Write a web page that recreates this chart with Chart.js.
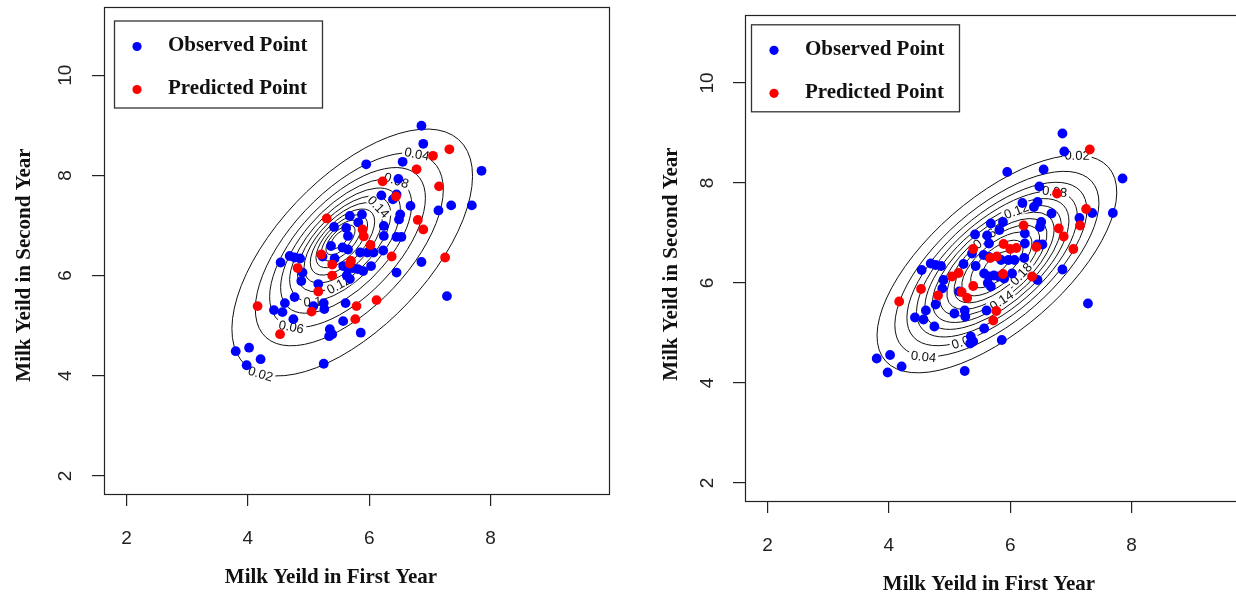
<!DOCTYPE html>
<html><head><meta charset="utf-8">
<script src="https://cdn.jsdelivr.net/npm/chart.js@4.4.1/dist/chart.umd.min.js"></script>
<style>
html,body{margin:0;padding:0;background:#fff;overflow:hidden;width:1236px;height:594px;position:relative;}
#w1{position:absolute;left:0;top:0;width:618px;height:594px;}
#w2{position:absolute;left:618px;top:0;width:640px;height:594px;}
</style></head><body>
<div id="w1"><canvas id="c1" width="618" height="594"></canvas></div>
<div id="w2"><canvas id="c2" width="640" height="594"></canvas></div>
<script>
// ---------- data ----------
const obsX = [6.86,6.89,5.95,6.55,6.48,7.85,6.20,6.45,6.39,6.68,7.14,7.35,7.69,5.68,5.88,5.82,5.42,5.62,5.65,6.51,6.49,6.24,6.24,6.45,6.53,5.37,5.56,5.65,5.85,5.97,6.07,6.23,5.43,5.57,5.65,5.73,5.81,5.90,6.03,5.68,5.63,6.45,6.86,7.28,4.54,4.69,4.77,4.86,4.90,4.88,5.16,4.77,4.61,4.43,4.57,4.75,5.08,5.25,5.26,5.61,5.57,5.35,5.39,5.34,5.86,3.80,4.02,3.98,4.21,5.25,5.23];
const obsY = [8.99,8.63,8.22,8.27,7.93,8.09,7.60,7.62,7.52,7.39,7.30,7.40,7.40,7.19,7.22,7.06,6.97,6.95,6.79,7.22,7.12,6.99,6.79,6.77,6.77,6.59,6.56,6.52,6.46,6.46,6.46,6.50,6.34,6.19,6.13,6.15,6.13,6.09,6.19,5.93,6.00,6.06,6.27,5.59,6.26,6.39,6.36,6.34,6.06,5.89,5.83,5.57,5.45,5.31,5.27,5.13,5.39,5.45,5.33,5.45,5.09,4.93,4.83,4.79,4.86,4.49,4.56,4.21,4.33,4.24,6.38];
const predLeftX = [7.32,7.05,6.78,6.22,7.15,6.44,5.30,6.80,6.89,5.89,5.91,6.02,5.21,6.37,5.70,5.68,5.39,5.39,4.82,7.25,5.16,6.12,5.79,4.16,5.05,5.77,4.53];
const predLeftY = [8.52,8.39,8.12,7.88,7.78,7.58,7.14,7.11,6.92,6.92,6.78,6.61,6.42,6.38,6.29,6.24,6.22,6.00,6.15,6.36,5.68,5.51,5.39,5.39,5.28,5.13,4.83];
const predRightX = [7.31,6.77,7.25,6.22,7.15,6.80,6.88,7.04,6.43,5.89,6.00,6.10,5.39,5.67,5.78,5.04,5.15,5.88,6.36,5.39,4.53,4.81,5.20,5.29,4.17,5.77,5.72];
const predRightY = [8.67,7.79,7.48,7.15,7.15,7.09,6.93,6.68,6.72,6.78,6.68,6.70,6.68,6.50,6.53,6.13,6.20,6.18,6.13,5.94,5.88,5.75,5.82,5.70,5.63,5.44,5.25];

const xTicks = [2,4,6,8];
const yTicks = [2,4,6,8,10];
const xTitle = 'Milk Yeild in First Year';
const yTitle = 'Milk Yeild in Second Year';
const seriesNames = ['Observed Point','Predicted Point'];

// left panel contours: level and ring size (Mahalanobis radius)
const leftLevels  = [0.02,0.04,0.06,0.08,0.1,0.12,0.14,0.16,0.18,0.2,0.22,0.24];
const leftRingK   = [2.24,1.75,1.45,1.22,1.03,0.87,0.73,0.60,0.48,0.37,0.27,0.17];
const leftMean    = [5.50,6.745];
const leftSd      = [0.885,1.10];
const leftRho     = 0.62;
const leftShift   = [0.098,-0.127];
const leftLabelLevels = [0.02,0.06,0.1,0.12,0.04,0.08,0.14];
const leftLabelX  = [4.20,4.66,5.08,5.63,6.78,6.45,6.17];
const leftLabelY  = [3.99,4.61,4.99,5.53,8.39,7.92,7.39];

// right panel contours: bivariate normal density levels
const rightLevels = [0.02,0.04,0.06,0.08,0.1,0.12,0.14,0.16,0.18,0.2,0.22,0.24];
const rightMean   = [5.78,6.38];
const rightSd     = [0.88,0.97];
const rightRho    = 0.66;
const rightShift  = [0,0];
const rightLabelLevels = [0.02,0.08,0.04,0.06,0.14,0.18,0.12,0.16];
const rightLabelX = [7.10,6.74,4.565,5.23,5.885,6.165,6.10,5.60];
const rightLabelY = [8.45,7.88,4.52,4.885,5.59,6.19,7.45,6.85];

// ---------- helpers ----------
function normalK(sd, rho, level){
  const f0 = 1/(2*Math.PI*sd[0]*sd[1]*Math.sqrt(1-rho*rho));
  return level < f0 ? Math.sqrt(2*Math.log(f0/level)) : null;
}
function ring(o, i){
  const k = o.ringK ? o.ringK[i] : normalK(o.sd, o.rho, o.levels[i]);
  if (k == null) return null;
  const sd=o.sd, rho=o.rho;
  const vx = sd[0]*sd[0], vy = sd[1]*sd[1], cv = rho*sd[0]*sd[1];
  const tr = vx+vy, det = vx*vy-cv*cv;
  const disc = Math.sqrt(tr*tr/4-det);
  return {cx: o.mean[0]+k*o.shift[0], cy: o.mean[1]+k*o.shift[1],
          a: k*Math.sqrt(tr/2+disc), b: k*Math.sqrt(tr/2-disc),
          th: 0.5*Math.atan2(2*cv, vx-vy)};
}
function ringPt(r,t){
  const c=Math.cos(r.th), s=Math.sin(r.th), u=r.a*Math.cos(t), v=r.b*Math.sin(t);
  return [r.cx+c*u-s*v, r.cy+s*u+c*v];
}

const contourPlugin = {
  id:'contourRings',
  beforeDatasetsDraw(chart, args, o){
    const {ctx, scales:{x,y}} = chart;
    const ax = x.getPixelForValue(1)-x.getPixelForValue(0), bx = x.getPixelForValue(0);
    const ay = y.getPixelForValue(1)-y.getPixelForValue(0), by = y.getPixelForValue(0);
    ctx.save();
    ctx.strokeStyle = '#111'; ctx.lineWidth = 1;
    o.levels.forEach((l,i)=>{
      const r = ring(o,i); if(!r) return;
      ctx.save(); ctx.transform(ax,0,0,ay,bx,by);
      ctx.beginPath(); ctx.ellipse(r.cx,r.cy,r.a,r.b,r.th,0,Math.PI*2);
      ctx.restore(); ctx.stroke();
    });
    ctx.font = '13px "Liberation Sans", Arial, sans-serif';
    ctx.textAlign='center'; ctx.textBaseline='middle';
    o.labelLevels.forEach((l,j)=>{
      const i = o.levels.indexOf(l); if (i<0) return;
      const r = ring(o,i); if(!r) return;
      const tx = x.getPixelForValue(o.labelX[j]), ty = y.getPixelForValue(o.labelY[j]);
      let best=0, bd=1e9;
      for(let s=0;s<720;s++){
        const t=s/720*2*Math.PI, p=ringPt(r,t);
        const d=(x.getPixelForValue(p[0])-tx)**2+(y.getPixelForValue(p[1])-ty)**2;
        if(d<bd){bd=d;best=t;}
      }
      const p0=ringPt(r,best-0.01), p1=ringPt(r,best+0.01), pc=ringPt(r,best);
      let ang=Math.atan2(y.getPixelForValue(p1[1])-y.getPixelForValue(p0[1]), x.getPixelForValue(p1[0])-x.getPixelForValue(p0[0]));
      if(ang>Math.PI/2) ang-=Math.PI; if(ang<-Math.PI/2) ang+=Math.PI;
      const txt=String(l), w=ctx.measureText(txt).width;
      ctx.save(); ctx.translate(x.getPixelForValue(pc[0]), y.getPixelForValue(pc[1])); ctx.rotate(ang);
      ctx.fillStyle='#fff'; ctx.fillRect(-w/2-2,-6,w+4,12);
      ctx.fillStyle='#111'; ctx.fillText(txt,0,1);
      ctx.restore();
    });
    ctx.restore();
  }
};

const framePlugin = {
  id:'rFrame',
  afterDraw(chart, args, o){
    const {ctx, chartArea:ca, scales:{y}} = chart;
    ctx.save();
    ctx.strokeStyle='#222'; ctx.lineWidth=1.2;
    ctx.strokeRect(ca.left+0.5, ca.top+0.5, ca.right-ca.left, ca.bottom-ca.top);
    ctx.fillStyle='#222'; ctx.font='19px "Liberation Sans", Arial, sans-serif';
    ctx.textAlign='center'; ctx.textBaseline='middle';
    yTicks.forEach(v=>{
      ctx.save(); ctx.translate(ca.left+o.yTickDX, y.getPixelForValue(v)); ctx.rotate(-Math.PI/2);
      ctx.fillText(String(v),0,0); ctx.restore();
    });
    ctx.fillStyle='#111'; ctx.font='bold 21px "Liberation Serif", "Times New Roman", serif';
    ctx.fillText(xTitle, ca.left+o.xTitleDX, ca.bottom+o.xTitleDY);
    ctx.save(); ctx.translate(ca.left+o.yTitleDX, ca.top+o.yTitleDY); ctx.rotate(-Math.PI/2);
    ctx.fillText(yTitle,0,0); ctx.restore();
    const lx=ca.left+o.legDX, ly=ca.top+o.legDY;
    ctx.strokeStyle='#333'; ctx.lineWidth=1.3;
    ctx.strokeRect(lx+0.5, ly+0.5, 208, 87);
    const cols=['#0000ff','#ff0000'];
    seriesNames.forEach((n,i)=>{
      const cy = ly + 26 + i*43;
      ctx.fillStyle=cols[i]; ctx.beginPath(); ctx.arc(lx+23, cy, 4.6, 0, Math.PI*2); ctx.fill();
      ctx.fillStyle='#111'; ctx.textAlign='left';
      ctx.fillText(n, lx+54, cy-1);
    });
    ctx.restore();
  }
};

function toPts(xs, ys){ return xs.map((v,i)=>({x:v, y:ys[i]})); }

function makeChart(id, predX, predY, contour, frame, lay){
  return new Chart(document.getElementById(id), {
    type:'scatter',
    data:{datasets:[
      {label:seriesNames[1], data:toPts(predX,predY), backgroundColor:'#ff0000', borderColor:'#ff0000', pointRadius:4.9, pointBorderWidth:0, order:0},
      {label:seriesNames[0], data:toPts(obsX,obsY), backgroundColor:'#0000ff', borderColor:'#0000ff', pointRadius:4.9, pointBorderWidth:0, order:1}
    ]},
    options:{
      responsive:false, animation:false, events:[],
      layout:{padding:{top:lay.top, right:lay.right, left:0, bottom:0}},
      plugins:{legend:{display:false}, tooltip:{enabled:false}, contourRings:contour, rFrame:frame},
      scales:{
        x:{type:'linear', min:1.63, max:9.95,
           afterBuildTicks:s=>{s.ticks=xTicks.map(v=>({value:v}));},
           afterFit:s=>{s.height=lay.xh;},
           grid:{drawOnChartArea:false, drawTicks:true, tickLength:12, color:'#222', lineWidth:1.2},
           border:{display:false},
           ticks:{font:{family:'"Liberation Sans", Arial, sans-serif', size:19}, color:'#222', padding:21, maxRotation:0, autoSkip:false}},
        y:{type:'linear', min:1.64, max:11.36,
           afterBuildTicks:s=>{s.ticks=yTicks.map(v=>({value:v}));},
           afterFit:s=>{s.width=lay.yw;},
           grid:{drawOnChartArea:false, drawTicks:true, tickLength:12, color:'#222', lineWidth:1.2},
           border:{display:false},
           ticks:{display:false}}
      }
    },
    plugins:[contourPlugin, framePlugin]
  });
}

makeChart('c1', predLeftX, predLeftY,
  {levels:leftLevels, ringK:leftRingK, mean:leftMean, sd:leftSd, rho:leftRho, shift:leftShift, labelLevels:leftLabelLevels, labelX:leftLabelX, labelY:leftLabelY},
  {yTickDX:-38, xTitleDX:227, xTitleDY:84, yTitleDX:-79, yTitleDY:258, legDX:10, legDY:13.5},
  {top:7, right:9, xh:100, yw:104});
makeChart('c2', predRightX, predRightY,
  {levels:rightLevels, mean:rightMean, sd:rightSd, rho:rightRho, shift:rightShift, labelLevels:rightLabelLevels, labelX:rightLabelX, labelY:rightLabelY},
  {yTickDX:-37, xTitleDX:244, xTitleDY:84, yTitleDX:-73, yTitleDY:249, legDX:6, legDY:9.3},
  {top:15, right:8, xh:93, yw:127});
</script>
</body></html>
